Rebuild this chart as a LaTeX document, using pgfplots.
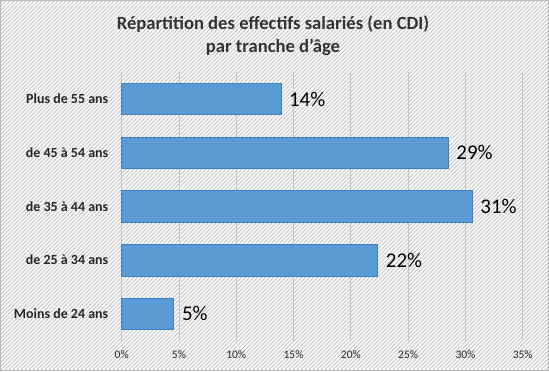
\documentclass[border=0pt]{standalone}
\usepackage{pgfplots}
\pgfplotsset{compat=1.18}
\usepackage{pgfplotstable}
\usepackage{fontspec}
\setmainfont{Carlito}
\definecolor{barblue}{HTML}{5B9BD5}
\definecolor{baredge}{HTML}{3F7FC0}
\definecolor{gridgray}{HTML}{C4C4C4}
\definecolor{hatch}{HTML}{C4C4C4}
\pgfplotstableread[col sep=comma]{
y,val,lab
0,4.55,5\%
1,22.35,22\%
2,30.6,31\%
3,28.5,29\%
4,13.9,14\%
}\agedata
\begin{document}
\begin{tikzpicture}[x=1bp,y=1bp]
\fill[white] (0,0) rectangle (549,371);
\begin{scope}
\clip (0,0) rectangle (549,371);
\foreach \i in {-372,-368,...,552} {\draw[hatch,line width=0.75bp] (\i,0) -- ++(371,371);}
\end{scope}
\draw[gray!55,line width=0.8bp] (0.5,0.5) rectangle (548.5,370.5);
\node[font=\bfseries\fontsize{18.7}{23}\selectfont,text=black!80,align=center] at (273,335.5) {Répartition des effectifs salariés (en CDI)\\par tranche d'âge};
\begin{axis}[
  at={(121.7bp,30.3bp)}, anchor=south west,
  scale only axis, width=401bp, height=268.5bp,
  xmin=0, xmax=35, ymin=-0.5, ymax=4.5,
  xtick={0,5,...,35},
  xticklabel={\pgfmathprintnumber{\tick}\%},
  xticklabel style={font=\fontsize{11.5}{14}\selectfont, text=black!85, yshift=-6bp},
  /pgf/number format/assume math mode=true,
  ytick={0,1,2,3,4},
  yticklabels={Moins de 24 ans,de 25 à 34 ans,de 35 à 44 ans,de 45 à 54 ans,Plus de 55 ans},
  yticklabel style={font=\bfseries\fontsize{14}{16}\selectfont, text=black!85, xshift=-10bp},
  major tick length=0pt,
  axis line style={draw=none},
  xmajorgrids, grid style={gridgray, line width=0.8bp},
  clip=false,
]
\addplot[xbar, bar width=0.585, fill=barblue, draw=baredge, line width=0.7bp,
  point meta=explicit symbolic,
  nodes near coords,
  every node near coord/.append style={font=\fontsize{21}{24}\selectfont, text=black, anchor=west, xshift=4.5bp}]
  table[x=val, y=y, meta=lab] {\agedata};
\end{axis}
\end{tikzpicture}
\end{document}
